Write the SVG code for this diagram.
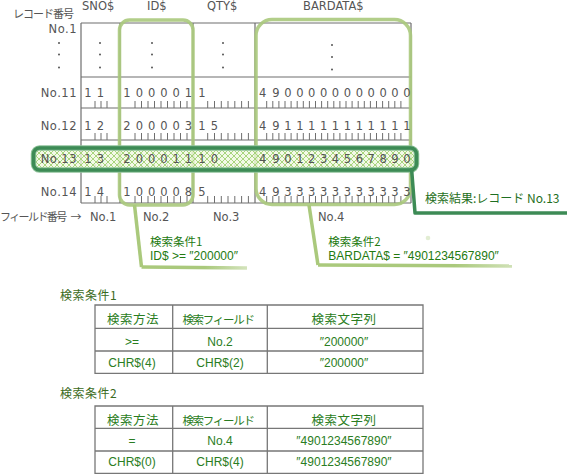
<svg xmlns="http://www.w3.org/2000/svg" width="570" height="474" viewBox="0 0 570 474">
<defs>
<style>
.grid{stroke:#6f6f6f;stroke-width:1.2;fill:none}
.tick{stroke:#6f6f6f;stroke-width:1;fill:none}
.hdr{font-family:"DejaVu Sans","Noto Sans CJK JP",sans-serif;font-size:11.5px;fill:#555}
.jpg{font-family:"Noto Sans CJK JP",sans-serif;font-size:11px;fill:#555}
.lbl{font-family:"DejaVu Sans",sans-serif;font-size:11.5px;fill:#555;letter-spacing:0.5px;text-anchor:end}
.dig{font-family:"DejaVu Sans",sans-serif;font-size:11.5px;fill:#555;text-anchor:middle}
.fno{font-family:"DejaVu Sans",sans-serif;font-size:11.5px;fill:#555}
.dot{fill:#555}
.sel{fill:none;stroke:#aac97c;stroke-width:3.5;opacity:0.9}
.lead{fill:none;stroke:#aac97c;stroke-width:3.5;stroke-linejoin:round}
.res{font-family:"Noto Sans CJK JP",sans-serif;font-size:12px;fill:#1f6f22}
.cond{font-family:"Liberation Sans","Noto Sans CJK JP",sans-serif;font-size:12px;fill:#237a10}
.condj{font-family:"Noto Sans CJK JP",sans-serif;font-size:11.5px;fill:#237a10}
.ttl{font-family:"Noto Sans CJK JP",sans-serif;font-size:12px;fill:#3b6b22;letter-spacing:0.5px}
.tb{stroke:#777;stroke-width:1.3;fill:none}
.tc{font-family:"Liberation Sans","Noto Sans CJK JP",sans-serif;font-size:12px;fill:#2a7d22;text-anchor:middle}
.th{font-family:"Noto Sans CJK JP",sans-serif;font-size:12.5px;fill:#2a7d22;text-anchor:middle;letter-spacing:0.5px}
.thn{font-size:11.5px;letter-spacing:-1.3px}
</style>
<pattern id="hatch" width="6" height="6" patternUnits="userSpaceOnUse">
<rect width="6" height="6" fill="#eef6df" fill-opacity="0.75"/>
<path d="M0 0L6 6M6 0L0 6" stroke="#9fd070" stroke-width="0.9"/>
</pattern>
<linearGradient id="fade1" gradientUnits="userSpaceOnUse" x1="140" y1="0" x2="248" y2="0">
<stop offset="0.6" stop-color="#aac97c"/>
<stop offset="1" stop-color="#aac97c" stop-opacity="0.5"/>
</linearGradient>
<linearGradient id="fade2" gradientUnits="userSpaceOnUse" x1="318" y1="0" x2="513" y2="0">
<stop offset="0.7" stop-color="#aac97c"/>
<stop offset="1" stop-color="#aac97c" stop-opacity="0.55"/>
</linearGradient>
<path id="ticks" d="M95 -7V0M101 -7V0M107 -7V0M135 -7V0M141.5 -7V0M148 -7V0M154.5 -7V0M161 -7V0M167.5 -7V0M174 -7V0M180.5 -7V0M187 -7V0M207.7 -7V0M214.5 -7V0M221.3 -7V0M228 -7V0M234.8 -7V0M241.6 -7V0M248.4 -7V0M266.7 -7V0M272.8 -7V0M278.9 -7V0M285 -7V0M291.1 -7V0M297.2 -7V0M303.3 -7V0M309.4 -7V0M315.5 -7V0M321.6 -7V0M327.7 -7V0M333.8 -7V0M339.9 -7V0M346 -7V0M352.1 -7V0M358.2 -7V0M364.3 -7V0M370.4 -7V0M376.5 -7V0M382.6 -7V0M388.7 -7V0M394.8 -7V0M400.9 -7V0"/>
</defs>

<g id="record-table">
<text class="jpg" x="13" y="17.5" letter-spacing="-1">レコード番号</text>
<text class="hdr" x="82" y="10">SNO$</text>
<text class="hdr" x="147" y="10">ID$</text>
<text class="hdr" x="207" y="10">QTY$</text>
<text class="hdr" x="303" y="10">BARDATA$</text>
<path class="grid" d="M81 23H411M81 77H411M81 108H411M81 140H411M81 171.5H411M81 203H411M81 23V203M120 23V203M193 23V203M255 23V203M411 23V203"/>
<g class="tick">
<use href="#ticks" y="108"/>
<use href="#ticks" y="140"/>
<use href="#ticks" y="171.5"/>
<use href="#ticks" y="203"/>
</g>
<text class="lbl" x="77" y="32.5">No.1</text>
<g class="dot">
<circle cx="59" cy="43" r="1"/><circle cx="59" cy="54.5" r="1"/><circle cx="59" cy="67.5" r="1"/>
<circle cx="100" cy="43" r="1"/><circle cx="100" cy="54.5" r="1"/><circle cx="100" cy="67.5" r="1"/>
<circle cx="152" cy="43" r="1"/><circle cx="152" cy="54.5" r="1"/><circle cx="152" cy="67.5" r="1"/>
<circle cx="223" cy="43" r="1"/><circle cx="223" cy="54.5" r="1"/><circle cx="223" cy="67.5" r="1"/>
<circle cx="332" cy="45" r="1"/><circle cx="332" cy="57" r="1"/><circle cx="332" cy="69.5" r="1"/>
</g>
</g>

<g id="selection-id">
<rect class="sel" x="119.5" y="20" width="73.5" height="185" rx="10"/>
</g>
<g id="selection-bardata">
<rect class="sel" x="256" y="19.5" width="154.5" height="185" rx="16"/>
</g>

<g id="result-band">
<rect x="33.5" y="148" width="383" height="22" rx="6" fill="url(#hatch)" stroke="#8fc29a" stroke-width="5.5"/>
<rect x="33.5" y="148" width="383" height="22" rx="6" fill="none" stroke="#3d8b55" stroke-width="3.5"/>
</g>

<g id="rows">
<text class="lbl" x="77" y="96.7">No.11</text>
<text class="dig" y="96.7" x="88 100.3">11</text>
<text class="dig" y="96.7" x="127 139.3 151.6 163.9 176.2 188.5">100001</text>
<text class="dig" y="96.7" x="202">1</text>
<text class="dig" y="96.7" x="262.7 276 287.9 299.8 311.7 323.6 335.5 347.4 359.3 371.2 383.1 395 406.9">4900000000000</text>

<text class="lbl" x="77" y="129.5">No.12</text>
<text class="dig" y="129.5" x="88 100.3">12</text>
<text class="dig" y="129.5" x="127 139.3 151.6 163.9 176.2 188.5">200003</text>
<text class="dig" y="129.5" x="202 214.5">15</text>
<text class="dig" y="129.5" x="262.7 276 287.9 299.8 311.7 323.6 335.5 347.4 359.3 371.2 383.1 395 406.9">4911111111111</text>

<text class="lbl" x="77" y="162.7">No.13</text>
<text class="dig" y="162.7" x="88 100.3">13</text>
<text class="dig" y="162.7" x="127 139.3 151.6 163.9 176.2 188.5">200011</text>
<text class="dig" y="162.7" x="202 214.5">10</text>
<text class="dig" y="162.7" x="262.7 276 287.9 299.8 311.7 323.6 335.5 347.4 359.3 371.2 383.1 395 406.9">4901234567890</text>

<text class="lbl" x="77" y="195.5">No.14</text>
<text class="dig" y="195.5" x="88 100.3">14</text>
<text class="dig" y="195.5" x="127 139.3 151.6 163.9 176.2 188.5">100008</text>
<text class="dig" y="195.5" x="202">5</text>
<text class="dig" y="195.5" x="262.7 276 287.9 299.8 311.7 323.6 335.5 347.4 359.3 371.2 383.1 395 406.9">4933333333333</text>
</g>

<g id="field-numbers">
<text class="jpg" x="0" y="220.5" font-size="10.5" letter-spacing="-1.6">フィールド番号<tspan dx="5" letter-spacing="0">→</tspan></text>
<text class="fno" x="90" y="220.5">No.1</text>
<text class="fno" x="143" y="220.5">No.2</text>
<text class="fno" x="213" y="220.5">No.3</text>
<text class="fno" x="318" y="220.5">No.4</text>
</g>

<g id="connectors">
<path class="lead" d="M134.5 205L141.5 267"/>
<path d="M141.5 267L247 268" fill="none" stroke="url(#fade1)" stroke-width="3.5"/>
<path class="lead" d="M309 205L318 265"/>
<path d="M318 265L512 266" fill="none" stroke="url(#fade2)" stroke-width="3.5"/>
<path d="M411.5 168L415 213H567" fill="none" stroke="#3d8b55" stroke-width="3.5" stroke-linejoin="round"/>
<circle cx="428" cy="238" r="2.3" fill="#e2edd3"/>
</g>

<g id="result-label">
<text class="res" x="425" y="203">検索結果:レコード No.13</text>
</g>

<g id="callout-1">
<text class="condj" x="150" y="246">検索条件1</text>
<text class="cond" x="150" y="259.5">ID$ &gt;= ″200000″</text>
</g>
<g id="callout-2">
<text class="condj" x="328.3" y="246">検索条件2</text>
<text class="cond" x="328.3" y="259.5">BARDATA$ = ″4901234567890″</text>
</g>

<g id="table-1">
<text class="ttl" x="60" y="300">検索条件1</text>
<path class="tb" d="M95 305H423V373.3H95ZM95 328.3H423M95 351H423M172.7 305V373.3M267.3 305V373.3"/>
<text class="th" x="133" y="324">検索方法</text>
<text class="th thn" x="218" y="324">検索フィールド</text>
<text class="th" x="344" y="324">検索文字列</text>
<text class="tc" x="132" y="346">&gt;=</text>
<text class="tc" x="220" y="346">No.2</text>
<text class="tc" x="344" y="346">″200000″</text>
<text class="tc" x="132" y="366.5">CHR$(4)</text>
<text class="tc" x="220" y="366.5">CHR$(2)</text>
<text class="tc" x="344" y="366.5">″200000″</text>
</g>

<g id="table-2">
<text class="ttl" x="60" y="398">検索条件2</text>
<path class="tb" d="M95 406H423V473.3H95ZM95 428.3H423M95 451H423M172.7 406V473.3M267.3 406V473.3"/>
<text class="th" x="133" y="425">検索方法</text>
<text class="th thn" x="218" y="425">検索フィールド</text>
<text class="th" x="344" y="425">検索文字列</text>
<text class="tc" x="132" y="445">=</text>
<text class="tc" x="220" y="445">No.4</text>
<text class="tc" x="344" y="445">″4901234567890″</text>
<text class="tc" x="132" y="466">CHR$(0)</text>
<text class="tc" x="220" y="466">CHR$(4)</text>
<text class="tc" x="344" y="466">″4901234567890″</text>
</g>
</svg>
